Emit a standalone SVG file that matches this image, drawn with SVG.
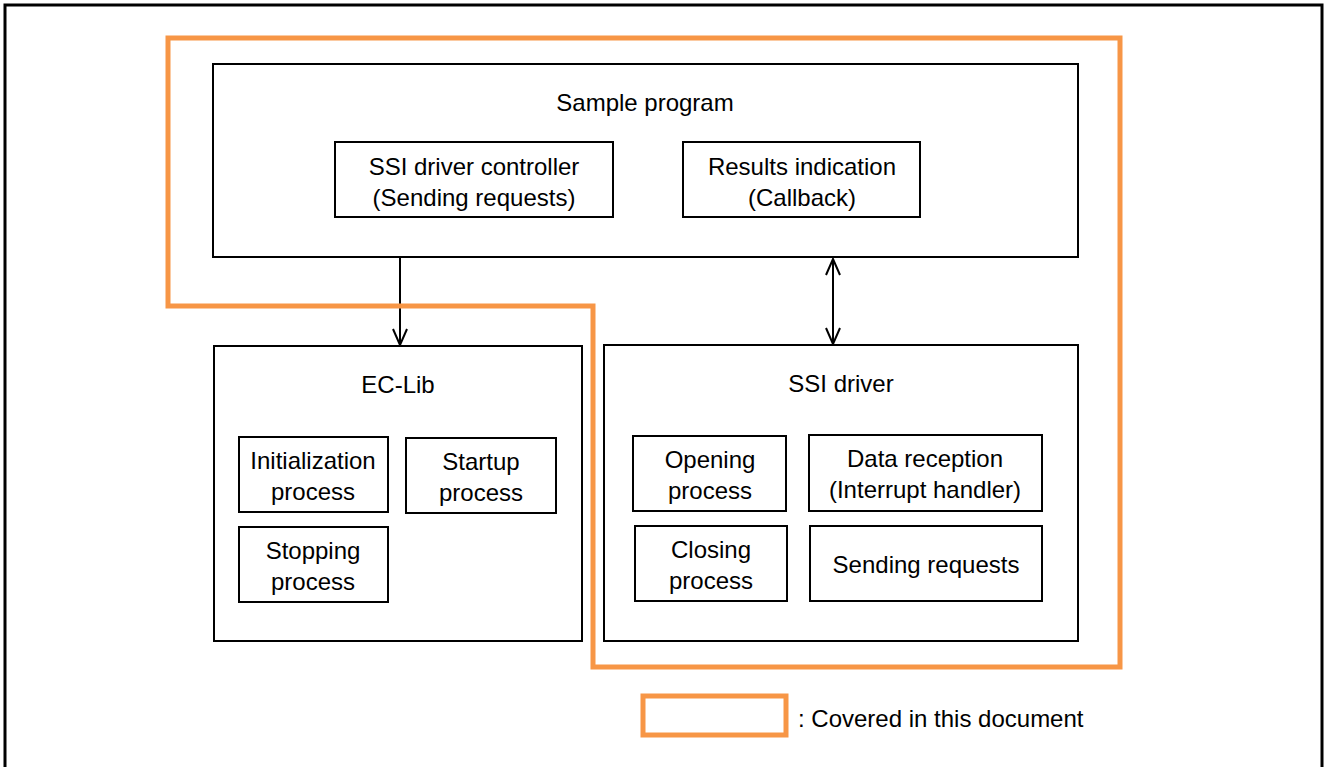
<svg xmlns="http://www.w3.org/2000/svg" width="1328" height="767" viewBox="0 0 1328 767">
<style>
.box{fill:#fff;stroke:#000;stroke-width:2}
.t{font-family:"Liberation Sans",Arial,sans-serif;font-size:24px;fill:#000;text-anchor:middle}
.or{fill:none;stroke:#F79646;stroke-width:5}
.ln{stroke:#000;stroke-width:2;fill:none}
</style>
<defs>
<marker id="ah" viewBox="0 0 20 20" refX="18" refY="10" markerWidth="20" markerHeight="20" markerUnits="userSpaceOnUse" orient="auto-start-reverse">
<path d="M2,3 L18,10 L2,17" fill="none" stroke="#000" stroke-width="2"/>
</marker>
</defs>
<rect x="0" y="0" width="1328" height="767" fill="#fff"/>
<rect x="5" y="5" width="1317" height="775" fill="none" stroke="#000" stroke-width="3"/>
<g id="sample-program">
<rect class="box" x="213" y="64" width="865" height="193"/>
<text class="t" x="645" y="111">Sample program</text>
</g>
<g id="ssi-driver-controller">
<rect class="box" x="335" y="142" width="278" height="75"/>
<text class="t" x="474" y="175">SSI driver controller</text>
<text class="t" x="474" y="206">(Sending requests)</text>
</g>
<g id="results-indication">
<rect class="box" x="683" y="142" width="237" height="75"/>
<text class="t" x="802" y="175">Results indication</text>
<text class="t" x="802" y="206">(Callback)</text>
</g>
<g id="ec-lib">
<rect class="box" x="214" y="346" width="368" height="295"/>
<text class="t" x="398" y="393">EC-Lib</text>
</g>
<g id="initialization-process">
<rect class="box" x="239" y="437" width="149" height="75"/>
<text class="t" x="313" y="469">Initialization</text>
<text class="t" x="313" y="500">process</text>
</g>
<g id="startup-process">
<rect class="box" x="406" y="438" width="150" height="75"/>
<text class="t" x="481" y="470">Startup</text>
<text class="t" x="481" y="501">process</text>
</g>
<g id="stopping-process">
<rect class="box" x="239" y="527" width="149" height="75"/>
<text class="t" x="313" y="559">Stopping</text>
<text class="t" x="313" y="590">process</text>
</g>
<g id="ssi-driver">
<rect class="box" x="604" y="345" width="474" height="296"/>
<text class="t" x="841" y="392">SSI driver</text>
</g>
<g id="opening-process">
<rect class="box" x="633" y="436" width="153" height="75"/>
<text class="t" x="710" y="468">Opening</text>
<text class="t" x="710" y="499">process</text>
</g>
<g id="data-reception">
<rect class="box" x="809" y="435" width="233" height="76"/>
<text class="t" x="925" y="467">Data reception</text>
<text class="t" x="925" y="498">(Interrupt handler)</text>
</g>
<g id="closing-process">
<rect class="box" x="635" y="526" width="152" height="75"/>
<text class="t" x="711" y="558">Closing</text>
<text class="t" x="711" y="589">process</text>
</g>
<g id="sending-requests">
<rect class="box" x="810" y="526" width="232" height="75"/>
<text class="t" x="926" y="573">Sending requests</text>
</g>
<g id="connectors">
<line class="ln" x1="400" y1="257" x2="400" y2="345" marker-end="url(#ah)"/>
<line class="ln" x1="833" y1="259" x2="833" y2="344" marker-start="url(#ah)" marker-end="url(#ah)"/>
</g>
<g id="scope">
<path class="or" d="M168,38 H1120 V667 H593 V306 H168 Z"/>
</g>
<g id="legend">
<rect class="or" x="643" y="696" width="143" height="39"/>
<text class="t" x="798" y="727" style="text-anchor:start">: Covered in this document</text>
</g>
</svg>
